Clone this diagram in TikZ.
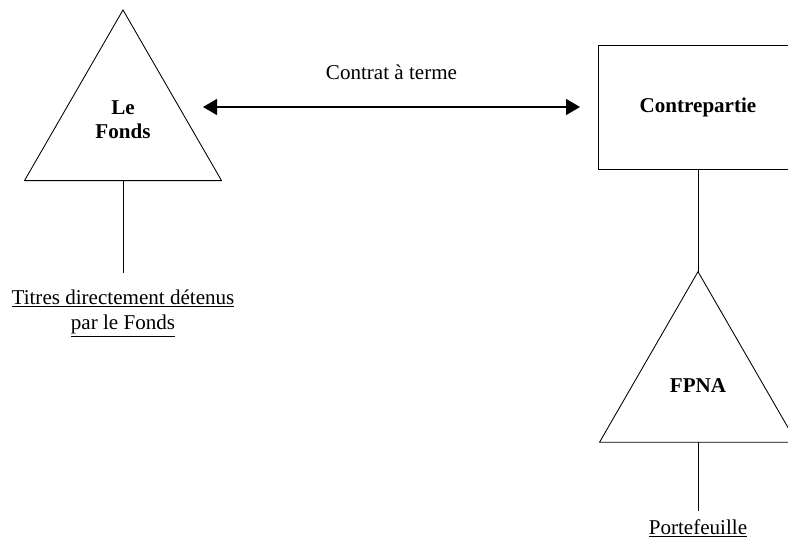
\documentclass[tikz,border=0pt]{standalone}
\usepackage{fontspec}
\setmainfont{Liberation Serif}
\usetikzlibrary{positioning,calc,shapes.geometric,arrows.meta}
\def\corps{\fontsize{15.8}{19}\selectfont}
\tikzset{
  pyramide/.style={draw, line width=0.65pt, regular polygon, regular polygon sides=3, minimum size=170.6pt, inner sep=0pt, outer sep=0pt, align=center, font=\fontsize{15.8}{18}\selectfont\bfseries},
  boite/.style={draw, line width=0.65pt, rectangle, minimum width=150pt, minimum height=93pt, inner sep=0pt, outer sep=0pt, font=\corps\bfseries},
  titre/.style={align=center, inner xsep=0pt},
  lien/.style={line width=0.65pt},
  contrat/.style={line width=0.8pt, {Triangle[length=10.5pt,width=12pt]}-{Triangle[length=10.5pt,width=12pt]}}
}

\begin{document}
\begin{tikzpicture}[x=0.75pt, y=-0.75pt, font=\corps]
			%%%%% START %%%%%
			\useasboundingbox (0,0) rectangle (788,546);
			
			\node[pyramide] (fonds) at (123,123.7) {Le\\Fonds\\[-12pt]};
			\node[boite] (contre) at (698,107) {Contrepartie};
			\node[pyramide, below=77pt of contre] (fpna) {FPNA};
			
			\node[titre, inner ysep=12.75pt, below=69pt of fonds.south] (titres) {\underline{Titres directement détenus}\\\underline{par le Fonds}};
			\node[titre, inner ysep=6pt, below=51.75pt of fpna.south] (porte) {\underline{Portefeuille}};
			
			\draw[lien] (fonds.south) -- (titres.north);
			\draw[lien] (contre.south) -- (fpna.north);
			\draw[lien] (fpna.south) -- (porte.north);
			
			\coordinate (gauche) at ($(fonds.center |- contre.west)+(80,0)$);
			\coordinate (droite) at ($(contre.west)+(-18,0)$);
			\draw[contrat] (gauche) -- (droite) node[midway, above=17pt] (terme) {Contrat à terme};
			
			%%%%% END %%%%%
		\end{tikzpicture}
\end{document}
